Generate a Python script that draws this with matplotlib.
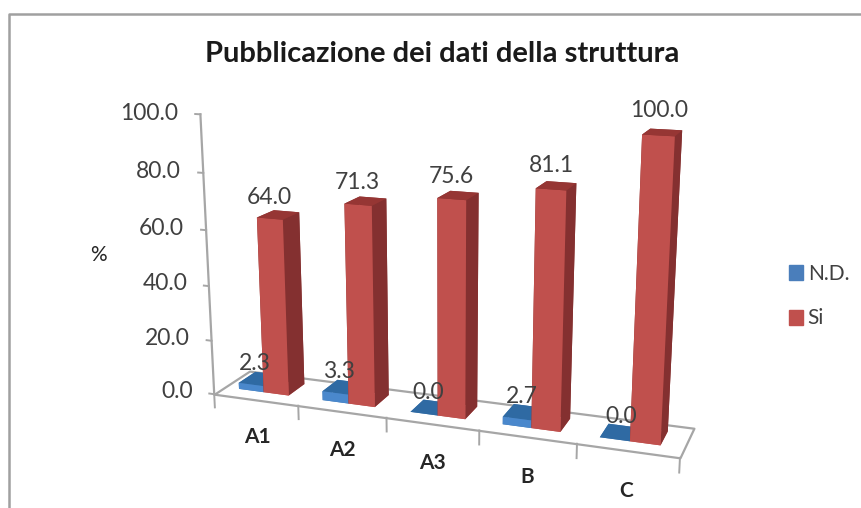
import matplotlib
matplotlib.use("Agg")
import matplotlib.pyplot as plt
from matplotlib.patches import Rectangle
from matplotlib.lines import Line2D
from mpl_toolkits.mplot3d.art3d import Poly3DCollection
from mpl_toolkits.mplot3d import proj3d
import numpy as np

plt.rcParams['font.family'] = ['Lato', 'DejaVu Sans']

categories = ["A1", "A2", "A3", "B", "C"]
nd_values = [2.3, 3.3, 0.0, 2.7, 0.0]
si_values = [64.0, 71.3, 75.6, 81.1, 100.0]
y_ticks = [0, 20, 40, 60, 80, 100]
title = "Pubblicazione dei dati della struttura"

W, H = 862, 508
fig = plt.figure(figsize=(W / 100, H / 100), dpi=100, facecolor="white")

# axes square in pixels
S, cx, cy = 568, 438, 278
ax = fig.add_axes([(cx - S / 2) / W, (H - cy - S / 2) / H, S / W, S / H],
                  projection="3d", computed_zorder=False)
ax.set_axis_off()
ax.patch.set_alpha(0)
ax.set_proj_type("persp", focal_length=0.42)
ax.set_box_aspect((488, 77, 294))
ax.view_init(elev=15.0, azim=-70)
ax.set_xlim(0, 5)
ax.set_ylim(0, 1)
ax.set_zlim(0, 100)
ax.set_xticks([]); ax.set_yticks([]); ax.set_zticks([])

GREY = "#a6a6a6"
TXT = "#404040"


def label(x, y, z, s, **kw):
    """Place a flat text at the projected position of a 3D point."""
    px, py, _ = proj3d.proj_transform(x, y, z, ax.get_proj())
    ax.text2D(px, py, s, transform=ax.transData, zorder=10, **kw)


# floor
ax.add_collection3d(Poly3DCollection([[(0, 0, 0), (5, 0, 0), (5, 1, 0), (0, 1, 0)]],
                                     facecolor="white", edgecolor=GREY, linewidth=1.6, zorder=1))
# value axis + ticks
ax.plot([0, 0], [0, 0], [0, 100], color=GREY, lw=1.6, zorder=2)
for t in y_ticks:
    ax.plot([-0.06, 0], [0, 0], [t, t], color=GREY, lw=1.4, zorder=2)
    label(-0.26, 0, t, f"{t:.1f}", ha="right", va="center", fontsize=16.5, color=TXT)
# category ticks
for i in range(len(categories) + 1):
    ax.plot([i, i], [0, 0], [0, -5], color=GREY, lw=1.4, zorder=2)

y0, dy = 0.3, 0.48
bw = 0.3
for i, (nd, si, cat) in enumerate(zip(nd_values, si_values, categories)):
    xb = i + 0.17
    xr = i + 0.47
    ax.bar3d(xb, y0, 0, bw, dy, nd, color=["#3f76ae", "#2f6aa3", "#4a88cc", "#3f76ae", "#3f76ae", "#2f5f92"],
             shade=False, zorder=3 + i * 0.01)
    ax.bar3d(xr, y0, 0, bw, dy, si, color=["#c0504d", "#963634", "#c0504d", "#8a3331", "#8a3331", "#843030"],
             shade=False, zorder=4 + i * 0.01)
    label(xr + bw / 2, y0, si + 7.5, f"{si:.1f}", ha="center", va="center", fontsize=16.5, color=TXT)
    label(xb + bw / 2 + 0.05, y0, nd + 8, f"{nd:.1f}", ha="center", va="center", fontsize=16.5, color=TXT)
    label(i + 0.5, 0, -14, cat, ha="center", va="center", fontsize=15, fontweight="bold", color="#262626")

fig.text(98 / W, 1 - 255 / H, "%", ha="center", va="center", fontsize=15, color="#262626")
fig.text(442 / W, 1 - 54 / H, title, ha="center", va="center", fontsize=21, fontweight="bold", color="#1a1a1a")

handles = [Rectangle((0, 0), 1, 1, color="#4a7ebb"), Rectangle((0, 0), 1, 1, color="#c0504d")]
fig.legend(handles, ["N.D.", "Si"], loc="center left", bbox_to_anchor=(789 / W, 1 - 296 / H),
           frameon=False, fontsize=15, handlelength=0.65, handleheight=0.75, handletextpad=0.25,
           labelspacing=1.2, labelcolor=TXT, borderpad=0, borderaxespad=0)

# chart frame
fig.add_artist(Line2D([9 / W, 9 / W, 1], [0, 1 - 14 / H, 1 - 14 / H], color="#a0a0a0", lw=1.8,
                      transform=fig.transFigure))
fig.savefig("out.png", dpi=100)
